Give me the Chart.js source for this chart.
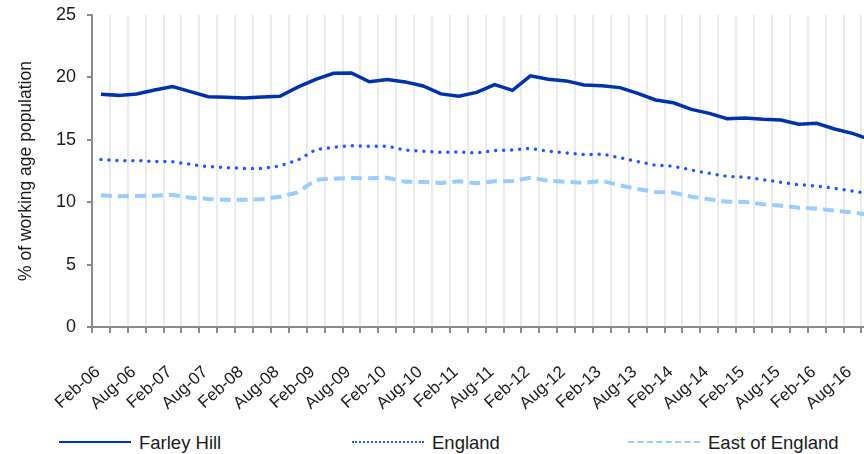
<!DOCTYPE html>
<html>
<head>
<meta charset="utf-8">
<script src="https://cdn.jsdelivr.net/npm/chart.js@4"></script>
<style>
  body { margin: 0; overflow: hidden; background: #fff; font-family: "Liberation Sans", Arial, sans-serif; }
  #wrap { position: relative; width: 913px; height: 454px; }
  .key { position: absolute; top: 432px; font-size: 18.5px; color: #1a1a1a; line-height: 22px; white-space: nowrap; }
  .key span { display: inline-block; width: 72px; vertical-align: middle; margin-right: 8px; position: relative; top: -2px; }
</style>
</head>
<body>
<div id="wrap">
  <canvas id="myChart" width="913" height="420"></canvas>
  <div class="key" style="left:59px"><span style="border-top:2px solid #0033aa"></span>Farley Hill</div>
  <div class="key" style="left:352px"><span style="border-top:2px dotted #2255ff"></span>England</div>
  <div class="key" style="left:628px"><span style="border-top:2px dashed #99ccff"></span>East of England</div>
</div>
<script>
var quarters = [
  "Feb-06", "May-06", "Aug-06", "Nov-06", "Feb-07", "May-07", "Aug-07", "Nov-07",
  "Feb-08", "May-08", "Aug-08", "Nov-08", "Feb-09", "May-09", "Aug-09", "Nov-09",
  "Feb-10", "May-10", "Aug-10", "Nov-10", "Feb-11", "May-11", "Aug-11", "Nov-11",
  "Feb-12", "May-12", "Aug-12", "Nov-12", "Feb-13", "May-13", "Aug-13", "Nov-13",
  "Feb-14", "May-14", "Aug-14", "Nov-14", "Feb-15", "May-15", "Aug-15", "Nov-15",
  "Feb-16", "May-16", "Aug-16", "Nov-16"
];

var farleyHill = [
  18.65, 18.56, 18.67, 18.99, 19.26, 18.86, 18.45, 18.40, 18.35, 18.43, 18.48,
  19.22, 19.84, 20.33, 20.35, 19.65, 19.84, 19.64, 19.31, 18.68, 18.50, 18.80,
  19.42, 18.96, 20.12, 19.85, 19.72, 19.39, 19.34, 19.18, 18.72, 18.19, 17.97,
  17.44, 17.12, 16.69, 16.75, 16.64, 16.59, 16.24, 16.32, 15.87, 15.52, 15.02
];

var england = [
  13.43, 13.33, 13.33, 13.27, 13.25, 13.03, 12.85, 12.77, 12.71, 12.71, 12.90,
  13.38, 14.22, 14.40, 14.53, 14.48, 14.48, 14.18, 14.08, 14.00, 14.02, 13.94,
  14.13, 14.18, 14.32, 14.08, 13.94, 13.81, 13.86, 13.57, 13.25, 12.96, 12.88,
  12.58, 12.31, 12.07, 12.00, 11.81, 11.59, 11.40, 11.30, 11.11, 10.90, 10.66
];

var eastOfEngland = [
  10.55, 10.47, 10.50, 10.52, 10.58, 10.36, 10.26, 10.20, 10.20, 10.23, 10.44,
  10.78, 11.80, 11.88, 11.94, 11.92, 11.96, 11.64, 11.62, 11.54, 11.67, 11.51,
  11.67, 11.70, 11.96, 11.72, 11.64, 11.54, 11.72, 11.35, 11.06, 10.82, 10.76,
  10.44, 10.23, 10.04, 10.02, 9.83, 9.72, 9.56, 9.48, 9.32, 9.19, 8.97
];

var yTicks = [0, 5, 10, 15, 20, 25];

function chart() {
  var ctx = document.getElementById("myChart");
  new Chart(ctx, {
    type: 'line',
    data: {
      labels: quarters,
      datasets: [
        {
          label: "Farley Hill",
          data: farleyHill,
          borderColor: "#0033aa",
          borderWidth: 3.5,
          pointRadius: 0,
          tension: 0
        },
        {
          label: "England",
          data: england,
          borderColor: "#2255ff",
          borderWidth: 3.5,
          borderDash: [0, 8],
          borderCapStyle: 'round',
          pointRadius: 0,
          tension: 0
        },
        {
          label: "East of England",
          data: eastOfEngland,
          borderColor: "#99ccff",
          borderWidth: 4,
          borderDash: [11, 6],
          pointRadius: 0,
          tension: 0
        }
      ]
    },
    options: {
      responsive: false,
      animation: false,
      layout: { padding: { top: 15, left: 0, right: 0, bottom: 0 } },
      plugins: {
        legend: { display: false },
        tooltip: { enabled: false }
      },
      scales: {
        x: {
          offset: true,
          afterFit: function(axis) { axis.height = 93; },
          grid: { color: '#ebebeb', lineWidth: 2, tickColor: '#8a8a8a', tickLength: 6, offset: true },
          border: { color: '#8a8a8a', width: 2 },
          ticks: {
            autoSkip: false,
            minRotation: 42,
            maxRotation: 42,
            padding: 29,
            labelOffset: -3,
            color: '#1a1a1a',
            font: { family: "'Liberation Sans', Arial, sans-serif", size: 17 },
            callback: function(value, index) {
              return index % 2 === 0 ? quarters[index] : '';
            }
          }
        },
        y: {
          min: 0,
          max: 25,
          afterFit: function(axis) {
            axis.width = 92;
            axis.paddingTop = 0;
            axis.paddingBottom = 0;
          },
          afterBuildTicks: function(axis) {
            axis.ticks = yTicks.map(function(v) { return { value: v }; });
          },
          grid: { drawOnChartArea: false, tickColor: '#8a8a8a', tickLength: 5, lineWidth: 2 },
          border: { color: '#8a8a8a', width: 2 },
          ticks: {
            padding: 11,
            color: '#1a1a1a',
            font: { family: "'Liberation Sans', Arial, sans-serif", size: 18 }
          },
          title: {
            display: true,
            text: '% of working age population',
            color: '#1a1a1a',
            padding: { top: 16, bottom: 0 },
            font: { family: "'Liberation Sans', Arial, sans-serif", size: 17.5 }
          }
        }
      }
    }
  });
}

chart();
</script>
</body>
</html>
